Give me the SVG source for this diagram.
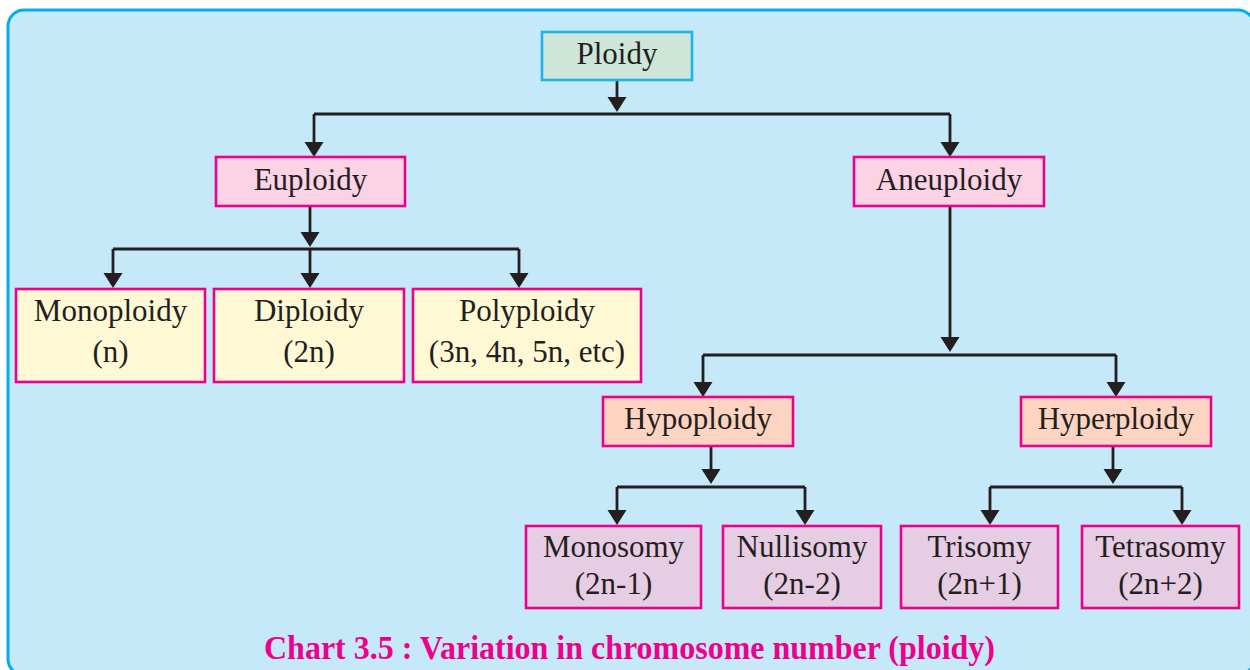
<svg xmlns="http://www.w3.org/2000/svg" width="1250" height="670" viewBox="0 0 1250 670">
<defs>
<style>
.box{stroke:#EC008C;stroke-width:2.6}
.root{fill:#CDE6D7;stroke:#1DB4EA;stroke-width:2.6}
.l1{fill:#FBD3E5}
.l2{fill:#FFF8D5}
.l3{fill:#FDD4C1}
.l4{fill:#E6CDE3}
.t{font-family:"Liberation Serif","Times New Roman",serif;font-size:31px;fill:#231F20;text-anchor:middle}
.c{fill:none;stroke:#231F20;stroke-width:2.8}
.a{marker-end:url(#ah)}
.cap{font-family:"Liberation Serif","Times New Roman",serif;font-weight:bold;font-size:33px;fill:#EC008C}
</style>
<marker id="ah" viewBox="0 -10 15 20" markerWidth="15" markerHeight="20" refX="12" refY="0" orient="auto" markerUnits="userSpaceOnUse">
<path d="M0,-9.5 L15,0 L0,9.5 Z" fill="#231F20"/>
</marker>
</defs>
<rect x="8" y="10" width="1246" height="665" rx="16" fill="#C5E9F8" stroke="#00AEEF" stroke-width="3"/>

<g id="connectors">
<path class="c a" d="M617 80 V109"/>
<path class="c" d="M314 114 H950"/>
<path class="c a" d="M314 114 V154"/>
<path class="c a" d="M950 114 V154"/>

<path class="c a" d="M310 206 V244"/>
<path class="c" d="M113 249 H519"/>
<path class="c a" d="M113 249 V285"/>
<path class="c a" d="M310 249 V285"/>
<path class="c a" d="M519 249 V285"/>

<path class="c a" d="M950 206 V349"/>
<path class="c" d="M703 355 H1116"/>
<path class="c a" d="M703 355 V394"/>
<path class="c a" d="M1116 355 V394"/>

<path class="c a" d="M711 446 V481"/>
<path class="c" d="M617 487 H805"/>
<path class="c a" d="M617 487 V522"/>
<path class="c a" d="M805 487 V522"/>

<path class="c a" d="M1113 446 V481"/>
<path class="c" d="M990 487 H1182"/>
<path class="c a" d="M990 487 V522"/>
<path class="c a" d="M1182 487 V522"/>
</g>

<g id="ploidy">
<rect class="root" x="542" y="32" width="150" height="48"/>
<text class="t" x="617" y="64">Ploidy</text>
</g>
<g id="euploidy">
<rect class="box l1" x="216" y="157" width="189" height="49"/>
<text class="t" x="310.5" y="190">Euploidy</text>
</g>
<g id="aneuploidy">
<rect class="box l1" x="854" y="157" width="190" height="49"/>
<text class="t" x="949" y="190">Aneuploidy</text>
</g>
<g id="monoploidy">
<rect class="box l2" x="16" y="289" width="189" height="93"/>
<text class="t" x="110.5" y="321">Monoploidy</text>
<text class="t" x="110.5" y="362">(n)</text>
</g>
<g id="diploidy">
<rect class="box l2" x="214" y="289" width="190" height="93"/>
<text class="t" x="309" y="321">Diploidy</text>
<text class="t" x="309" y="362">(2n)</text>
</g>
<g id="polyploidy">
<rect class="box l2" x="413" y="289" width="228" height="93"/>
<text class="t" x="527" y="321">Polyploidy</text>
<text class="t" x="527" y="362">(3n, 4n, 5n, etc)</text>
</g>
<g id="hypoploidy">
<rect class="box l3" x="603" y="397" width="190" height="49"/>
<text class="t" x="698" y="429">Hypoploidy</text>
</g>
<g id="hyperploidy">
<rect class="box l3" x="1021" y="397" width="190" height="49"/>
<text class="t" x="1116" y="429">Hyperploidy</text>
</g>
<g id="monosomy">
<rect class="box l4" x="526" y="526" width="175" height="82"/>
<text class="t" x="613.5" y="557">Monosomy</text>
<text class="t" x="613.5" y="594">(2n-1)</text>
</g>
<g id="nullisomy">
<rect class="box l4" x="723" y="526" width="158" height="82"/>
<text class="t" x="802" y="557">Nullisomy</text>
<text class="t" x="802" y="594">(2n-2)</text>
</g>
<g id="trisomy">
<rect class="box l4" x="901" y="526" width="157" height="82"/>
<text class="t" x="979.5" y="557">Trisomy</text>
<text class="t" x="979.5" y="594">(2n+1)</text>
</g>
<g id="tetrasomy">
<rect class="box l4" x="1082" y="526" width="157" height="82"/>
<text class="t" x="1160.5" y="557">Tetrasomy</text>
<text class="t" x="1160.5" y="594">(2n+2)</text>
</g>

<text class="cap" x="264" y="659" textLength="731" lengthAdjust="spacingAndGlyphs">Chart 3.5 : Variation in chromosome number (ploidy)</text>
</svg>
